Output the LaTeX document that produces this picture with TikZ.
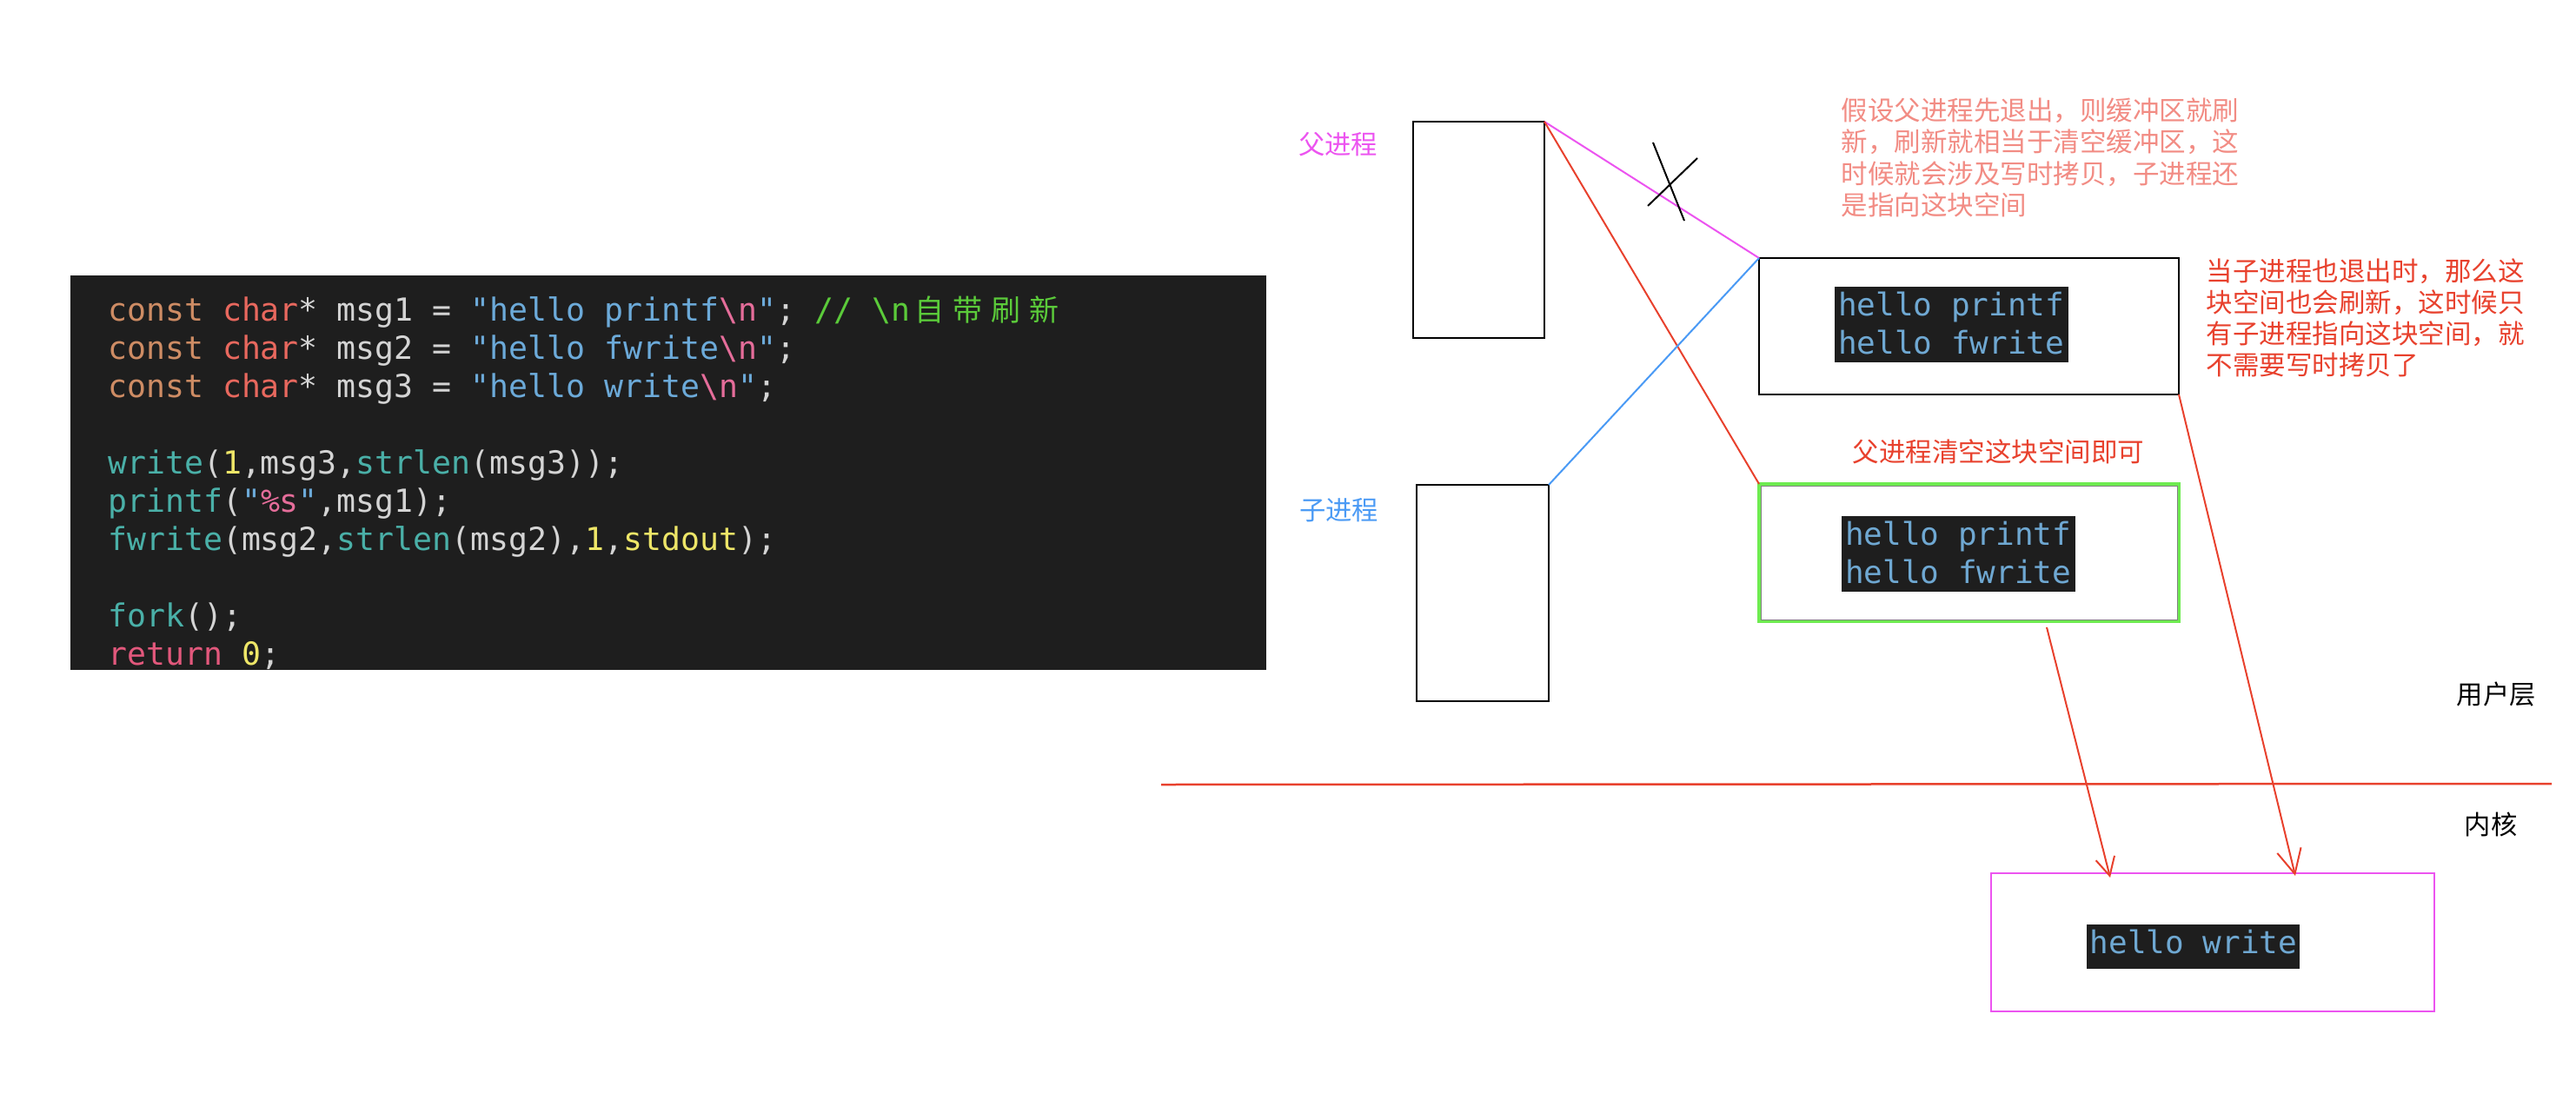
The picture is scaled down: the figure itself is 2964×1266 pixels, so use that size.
\documentclass[tikz,border=0pt]{standalone}
\usepackage{fontspec}
\newfontfamily\cjk{Noto Sans CJK SC}
\newfontfamily\codefont{DejaVu Sans Mono}
\usetikzlibrary{arrows.meta}

% editor palette
\definecolor{codebg}{RGB}{30,30,30}
\definecolor{cfg}{RGB}{212,212,212}
\definecolor{ckw}{RGB}{206,140,100}
\definecolor{cty}{RGB}{232,104,94}
\definecolor{cstr}{RGB}{108,170,217}
\definecolor{cesc}{RGB}{229,109,154}
\definecolor{ccm}{RGB}{91,203,58}
\definecolor{cfn}{RGB}{74,176,168}
\definecolor{cnum}{RGB}{238,230,104}
\definecolor{cret}{RGB}{226,88,124}
\definecolor{buftext}{RGB}{111,168,210}
% annotation palette
\definecolor{cmag}{RGB}{236,84,240}
\definecolor{cblue}{RGB}{74,154,245}
\definecolor{cred}{RGB}{232,65,45}
\definecolor{csalmon}{RGB}{242,140,132}
\definecolor{cgreen}{RGB}{110,235,80}

% a CJK character occupying two monospace columns
\newcommand\zhcol[1]{\makebox[44pt]{\cjk\fontsize{34}{44}\selectfont #1}}

\begin{document}
\begin{tikzpicture}[x=1pt,y=-1pt,
  box/.style={draw, line width=2.5pt, inner sep=0pt, outer sep=0pt, anchor=north west},
  blk/.style={fill=codebg, inner sep=0pt, outer sep=0pt, anchor=north west},
  codeline/.style={inner sep=0pt, anchor=base west, text=cfg,
    font=\codefont\fontsize{36.5}{44}\selectfont},
  buftxt/.style={inner sep=0pt, anchor=base west, text=buftext,
    font=\codefont\fontsize{36}{44}\selectfont},
  note/.style={inner sep=0pt, anchor=base west, font=\cjk\fontsize{30.5}{36}\selectfont},
  label/.style={inner sep=0pt, anchor=base west, font=\cjk\fontsize{30.3}{36}\selectfont},
  link/.style={line width=2pt},
  barbbig/.style={-{Straight Barb[length=28pt,width=28pt]}},
  barbsmall/.style={-{Straight Barb[length=21pt,width=22pt]}}
]
% page
\fill[white] (0,0) rectangle (2964,1266);
\path[use as bounding box] (0,0) rectangle (2964,1266);

% ---------- source code ----------
\node[blk, minimum width=1376, minimum height=454] (code) at (81,317) {};
\node[codeline] (l1) at (124,369) {\textcolor{ckw}{const} \textcolor{cty}{char}* msg1 = \textcolor{cstr}{"hello printf}\textcolor{cesc}{\textbackslash n}\textcolor{cstr}{"};\ \textcolor{ccm}{// \textbackslash n\zhcol{自}\zhcol{带}\zhcol{刷}\zhcol{新}}};
\node[codeline] (l2) at (124,413) {\textcolor{ckw}{const} \textcolor{cty}{char}* msg2 = \textcolor{cstr}{"hello fwrite}\textcolor{cesc}{\textbackslash n}\textcolor{cstr}{"};};
\node[codeline] (l3) at (124,457) {\textcolor{ckw}{const} \textcolor{cty}{char}* msg3 = \textcolor{cstr}{"hello write}\textcolor{cesc}{\textbackslash n}\textcolor{cstr}{"};};
\node[codeline] (l5) at (124,545) {\textcolor{cfn}{write}(\textcolor{cnum}{1},msg3,\textcolor{cfn}{strlen}(msg3));};
\node[codeline] (l6) at (124,589) {\textcolor{cfn}{printf}(\textcolor{cstr}{"}\textcolor{cesc}{\%s}\textcolor{cstr}{"},msg1);};
\node[codeline] (l7) at (124,633) {\textcolor{cfn}{fwrite}(msg2,\textcolor{cfn}{strlen}(msg2),\textcolor{cnum}{1},\textcolor{cnum}{stdout});};
\node[codeline] (l9) at (124,721) {\textcolor{cfn}{fork}();};
\node[codeline] (l10) at (124,765) {\textcolor{cret}{return} \textcolor{cnum}{0};};

% ---------- processes ----------
\node[box, minimum width=151, minimum height=249] (P) at (1626,140) {};
\node[box, minimum width=152, minimum height=249] (C) at (1630,558) {};
\node[label, text=cmag] (Plab) at (1494,177) {父进程};
\node[label, text=cblue] (Clab) at (1495,598) {子进程};

% ---------- shared user buffer ----------
\node[box, minimum width=483, minimum height=157] (B) at (2024,297) {};
\node[blk, minimum width=269, minimum height=87] (Bblk) at (2111,330) {};
\node[buftxt] (Bt1) at (2115,363) {hello printf};
\node[buftxt] (Bt2) at (2115,407) {hello fwrite};

% ---------- parent's copy ----------
\node[box, draw=cgreen, line width=3.5pt, minimum width=483, minimum height=158] (G) at (2024,557) {};
\draw[gray, line width=0.8pt] (2026,559) rectangle (2505,713);
\node[blk, minimum width=269, minimum height=87] (Gblk) at (2119,594) {};
\node[buftxt] (Gt1) at (2123,627) {hello printf};
\node[buftxt] (Gt2) at (2123,671) {hello fwrite};

% ---------- kernel buffer ----------
\node[box, draw=cmag, minimum width=510, minimum height=159] (K) at (2291,1005) {};
\node[blk, minimum width=245, minimum height=51] (Kblk) at (2401,1064) {};
\node[buftxt] (Kt) at (2404.5,1097) {hello write};

% ---------- links ----------
\draw[link, cmag] (P.north east) -- (B.north west);
\draw[link, cred] (P.north east) -- (G.north west);
\draw[link, cblue] (C.north east) -- (B.north west);
% crossed-out link
\draw[line width=2pt] (1902,164) -- (1938,254);
\draw[line width=2pt] (1953,182) -- (1896,237);

% flushes into the kernel
\coordinate (s1) at (2355,722);
\coordinate (t1) at (2428,1010);
\coordinate (t2) at (2641,1008);
\draw[link, cred, barbsmall] (s1) -- (t1);
\draw[link, cred, barbbig] (B.south east) -- (t2);

% user / kernel divider
\coordinate (d1) at (1336,903);
\coordinate (d2) at (2936,902);
\draw[cred, line width=2.5pt] (d1) -- (d2);
\node[label] (user) at (2826.5,810) {用户层};
\node[label] (kern) at (2835.5,960) {内核};

% ---------- notes ----------
\node[note, text=csalmon] (n1a) at (2118.5,138) {假设父进程先退出，则缓冲区就刷};
\node[note, text=csalmon] (n1b) at (2118.5,174.5) {新，刷新就相当于清空缓冲区，这};
\node[note, text=csalmon] (n1c) at (2118.5,211) {时候就会涉及写时拷贝，子进程还};
\node[note, text=csalmon] (n1d) at (2118.5,247.5) {是指向这块空间};

\node[note, text=cred] (n2a) at (2538.5,323) {当子进程也退出时，那么这};
\node[note, text=cred] (n2b) at (2538.5,359) {块空间也会刷新，这时候只};
\node[note, text=cred] (n2c) at (2538.5,395) {有子进程指向这块空间，就};
\node[note, text=cred] (n2d) at (2538.5,431) {不需要写时拷贝了};

\node[note, text=cred] (n3) at (2131.5,531) {父进程清空这块空间即可};
\end{tikzpicture}
\end{document}
